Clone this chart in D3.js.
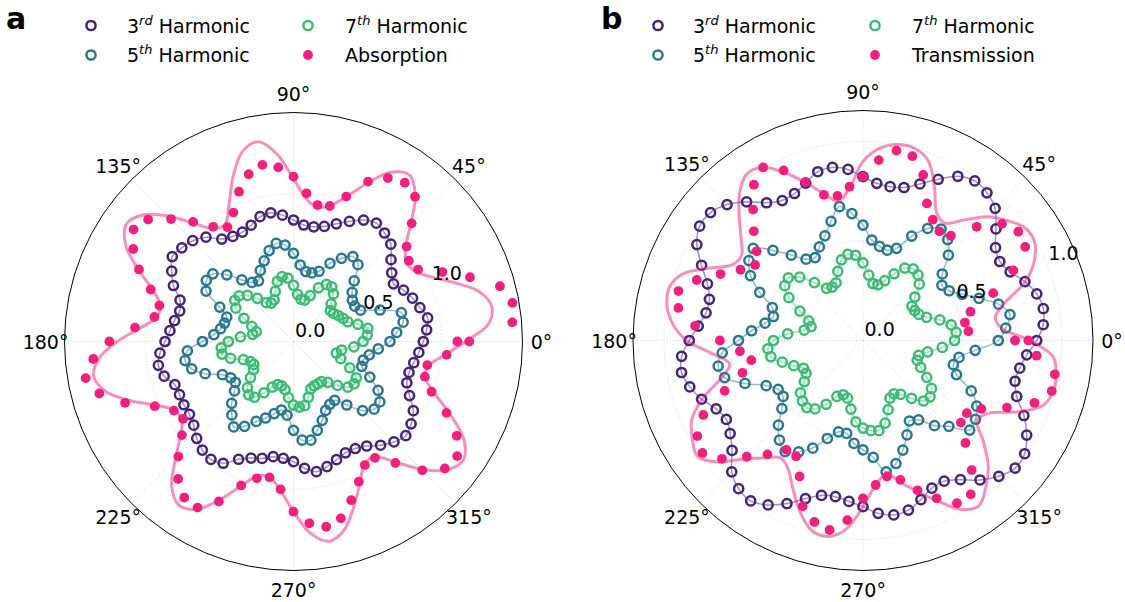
<!DOCTYPE html>
<html>
<head>
<meta charset="utf-8">
<script src="https://cdn.jsdelivr.net/npm/d3@7"></script>
<style>
  body { margin: 0; background: #fff; }
  text { font-family: "DejaVu Sans", sans-serif; }
</style>
</head>
<body>
<svg id="chart" width="1125" height="602"></svg>
<script>
// polarisation angle (deg) of each measurement
const angles = [0,5,10,15,20,25,30,35,40,45,50,55,60,65,70,75,80,85,90,95,100,105,110,115,
  120,125,130,135,140,145,150,155,160,165,170,175,180,185,190,195,200,205,210,215,220,225,230,235,
  240,245,250,255,260,265,270,275,280,285,290,295,300,305,310,315,320,325,330,335,340,345,350,355];
const dotAngles = angles.concat([360]);

const thetaTicks = [0, 45, 90, 135, 180, 225, 270, 315];
const rTicks = [0, 0.5, 1.0];

// panel a
const aThird = [0.877,0.903,0.92,0.884,0.856,0.82,0.78,0.81,0.86,0.93,0.957,0.976,
  0.947,0.895,0.846,0.805,0.787,0.79,0.821,0.857,0.883,0.873,0.836,0.816,
  0.82,0.845,0.92,0.963,0.985,1.0,0.95,0.895,0.816,0.796,0.816,0.838,
  0.868,0.906,0.927,0.905,0.853,0.85,0.855,0.858,0.88,0.925,0.958,0.973,
  0.95,0.878,0.838,0.818,0.79,0.792,0.812,0.86,0.893,0.875,0.85,0.83,
  0.835,0.862,0.915,0.96,0.99,0.97,0.935,0.865,0.815,0.808,0.825,0.85];
const aFifth = [0.652,0.70,0.752,0.755,0.622,0.50,0.478,0.486,0.517,0.58,0.678,0.70,
  0.649,0.583,0.505,0.48,0.48,0.519,0.596,0.654,0.673,0.636,0.58,0.53,
  0.473,0.487,0.543,0.637,0.711,0.719,0.682,0.55,0.48,0.482,0.50,0.54,
  0.615,0.72,0.744,0.712,0.635,0.53,0.49,0.48,0.52,0.591,0.648,0.705,
  0.662,0.596,0.55,0.504,0.47,0.50,0.60,0.669,0.677,0.621,0.567,0.514,
  0.49,0.485,0.56,0.66,0.711,0.712,0.66,0.569,0.491,0.488,0.52,0.575];
const aSeventh = [0.47,0.50,0.51,0.45,0.39,0.37,0.35,0.33,0.325,0.36,0.42,0.45,
  0.445,0.40,0.33,0.29,0.29,0.32,0.38,0.43,0.445,0.42,0.36,0.31,
  0.30,0.32,0.38,0.44,0.48,0.485,0.45,0.37,0.30,0.26,0.28,0.36,
  0.44,0.49,0.49,0.44,0.36,0.32,0.31,0.33,0.38,0.44,0.47,0.46,
  0.40,0.34,0.31,0.31,0.33,0.38,0.43,0.445,0.44,0.39,0.34,0.33,
  0.33,0.33,0.36,0.42,0.48,0.50,0.49,0.42,0.34,0.30,0.33,0.41];
const aAbsorption = [1.188,1.484,1.502,1.444,1.269,1.11,0.972,0.951,0.998,1.129,1.277,1.31,
  1.275,1.192,1.042,0.948,0.936,1.005,1.114,1.181,1.212,1.17,1.077,0.961,
  0.892,0.946,1.055,1.17,1.282,1.319,1.25,1.152,1.027,0.938,0.954,1.075,
  1.244,1.358,1.426,1.358,1.211,1.034,0.933,0.911,0.984,1.10,1.213,1.287,
  1.296,1.193,1.035,0.957,0.932,1.003,1.15,1.233,1.271,1.237,1.141,1.045,
  0.964,0.96,1.071,1.231,1.335,1.35,1.274,1.141,0.993,0.919,0.918,1.039,1.107];
const aAbsorptionFit = [1.16,1.32,1.36,1.30,1.16,1.03,0.95,0.93,0.99,1.12,1.28,1.37,
  1.32,1.18,1.04,0.95,0.92,0.97,1.10,1.27,1.37,1.33,1.19,1.03,
  0.92,0.93,1.04,1.20,1.33,1.38,1.31,1.16,1.01,0.93,0.94,1.04,
  1.19,1.32,1.37,1.31,1.17,1.02,0.93,0.92,1.00,1.13,1.28,1.35,
  1.31,1.18,1.04,0.94,0.93,1.01,1.15,1.30,1.37,1.32,1.19,1.06,
  0.96,0.95,1.06,1.22,1.35,1.40,1.33,1.17,1.01,0.92,0.93,1.03];

// panel b
const bThird = [0.873,0.909,0.92,0.904,0.866,0.816,0.794,0.813,0.872,0.939,0.969,0.979,
  0.953,0.894,0.837,0.796,0.785,0.793,0.823,0.863,0.883,0.878,0.842,0.815,
  0.812,0.845,0.91,0.966,1.0,1.002,0.964,0.895,0.832,0.799,0.801,0.831,
  0.873,0.915,0.926,0.901,0.863,0.814,0.793,0.815,0.859,0.933,0.972,0.984,
  0.954,0.904,0.845,0.806,0.797,0.812,0.835,0.872,0.89,0.882,0.851,0.819,
  0.816,0.854,0.915,0.965,0.998,0.992,0.95,0.892,0.822,0.791,0.80,0.826];
const bFifth = [0.68,0.72,0.75,0.705,0.62,0.55,0.50,0.484,0.52,0.607,0.662,0.684,
  0.65,0.579,0.493,0.47,0.48,0.507,0.58,0.64,0.683,0.62,0.56,0.519,
  0.481,0.499,0.56,0.64,0.72,0.70,0.653,0.573,0.485,0.466,0.50,0.562,
  0.626,0.71,0.739,0.72,0.631,0.537,0.492,0.49,0.532,0.601,0.653,0.682,
  0.646,0.597,0.524,0.475,0.474,0.519,0.55,0.59,0.67,0.64,0.586,0.523,
  0.467,0.487,0.559,0.61,0.70,0.69,0.66,0.60,0.50,0.47,0.49,0.566];
const bSeventh = [0.46,0.47,0.45,0.40,0.34,0.31,0.30,0.30,0.34,0.40,0.43,0.44,
  0.42,0.37,0.32,0.29,0.29,0.33,0.39,0.43,0.44,0.42,0.37,0.32,
  0.31,0.32,0.38,0.45,0.49,0.48,0.43,0.35,0.29,0.27,0.30,0.38,
  0.45,0.48,0.47,0.42,0.37,0.33,0.33,0.36,0.41,0.43,0.44,0.42,
  0.37,0.31,0.29,0.30,0.35,0.41,0.44,0.455,0.46,0.43,0.37,0.32,
  0.31,0.33,0.38,0.43,0.44,0.42,0.37,0.32,0.29,0.29,0.33,0.40];
const bTransmission = [0.764,0.532,0.52,0.559,0.696,0.834,0.941,0.953,0.912,0.808,0.687,0.67,
  0.701,0.76,0.885,0.959,0.969,0.91,0.823,0.776,0.738,0.758,0.847,0.943,
  1.004,0.956,0.859,0.776,0.697,0.662,0.711,0.79,0.889,0.96,0.942,0.847,
  0.719,0.621,0.57,0.627,0.74,0.885,0.961,0.985,0.925,0.826,0.747,0.671,
  0.672,0.754,0.887,0.944,0.967,0.906,0.793,0.729,0.694,0.725,0.801,0.875,
  0.944,0.944,0.85,0.728,0.642,0.637,0.687,0.798,0.917,0.982,0.979,0.876,0.831];
const bTransmissionFit = [0.84,0.70,0.675,0.74,0.87,0.95,0.995,0.99,0.94,0.88,0.79,0.72,
  0.74,0.85,0.96,1.0,1.0,0.97,0.90,0.77,0.71,0.765,0.845,0.93,
  1.005,1.02,0.965,0.88,0.80,0.745,0.76,0.86,0.97,1.01,1.0,0.96,
  0.886,0.76,0.68,0.74,0.86,0.95,0.99,1.015,0.95,0.84,0.77,0.72,
  0.75,0.83,0.92,0.99,1.0,0.95,0.835,0.73,0.68,0.74,0.81,0.89,
  0.98,1.015,0.96,0.89,0.79,0.70,0.73,0.85,0.96,0.99,0.985,0.96];

const purple = "#45237a", teal = "#2a788e", green = "#3dbb74", pink = "#f0207c";
const openR = 4.6, openW = 2.5, dotR = 4.9;

const svg = d3.select("#chart");
svg.append("rect").attr("width", 1125).attr("height", 602).attr("fill", "#fff");

const rad = deg => deg * Math.PI / 180;

function drawPanel(p) {
  const g = svg.append("g").attr("transform", `translate(${p.cx},${p.cy})`);
  const r = d3.scaleLinear().domain([0, p.R / p.unit]).range([0, p.R]);
  const pos = (deg, v) => d3.pointRadial(rad(90 - deg), r(v));

  // grid
  g.selectAll(".rgrid").data(rTicks.slice(1)).join("circle")
    .attr("r", d => r(d)).attr("fill", "none")
    .attr("stroke", "#c8c8c8").attr("stroke-width", 0.8).attr("stroke-dasharray", "1,2");
  g.selectAll(".tgrid").data(thetaTicks).join("line")
    .attr("x1", 0).attr("y1", 0)
    .attr("x2", d => p.R * Math.cos(rad(d)))
    .attr("y2", d => -p.R * Math.sin(rad(d)))
    .attr("stroke", "#c8c8c8").attr("stroke-width", 0.8).attr("stroke-dasharray", "1,2");

  const line = d3.lineRadial()
    .angle(d => rad(90 - d[0]))
    .radius(d => r(d[1]))
    .curve(d3.curveCatmullRomClosed);

  // harmonics: thin fit line + open circles
  p.harmonics.forEach(h => {
    const pts = angles.map((a, i) => [a, h.values[i]]);
    g.append("path").datum(pts).attr("d", line)
      .attr("fill", "none").attr("stroke", h.color)
      .attr("stroke-width", 1.5).attr("stroke-opacity", 0.5);
    g.append("g").selectAll("circle").data(pts).join("circle")
      .attr("cx", d => pos(d[0], d[1])[0])
      .attr("cy", d => pos(d[0], d[1])[1])
      .attr("r", openR).attr("fill", "none")
      .attr("stroke", h.color).attr("stroke-width", openW);
  });

  // absorption / transmission
  const fitPts = angles.map((a, i) => [a, p.fit[i]]);
  g.append("path").datum(fitPts).attr("d", line)
    .attr("fill", "none").attr("stroke", pink)
    .attr("stroke-width", 3).attr("stroke-opacity", 0.5);
  const dotPts = dotAngles.map((a, i) => [a, p.dots[i]]);
  g.append("g").selectAll("circle").data(dotPts).join("circle")
    .attr("cx", d => pos(d[0], d[1])[0])
    .attr("cy", d => pos(d[0], d[1])[1])
    .attr("r", dotR).attr("fill", pink);

  // outer spine
  g.append("circle").attr("r", p.R).attr("fill", "none")
    .attr("stroke", "#000").attr("stroke-width", 1);

  // theta labels
  g.selectAll(".tlab").data(thetaTicks).join("text")
    .attr("x", d => (p.R + 19) * Math.cos(rad(d)))
    .attr("y", d => -(p.R + 19) * Math.sin(rad(d)))
    .attr("text-anchor", "middle").attr("dominant-baseline", "central")
    .attr("font-size", 19).text(d => d + "°");

  // r labels at 22.5°
  g.selectAll(".rlab").data(rTicks).join("text")
    .attr("x", d => r(d) * Math.cos(rad(22.5)) + 1.5)
    .attr("y", d => -r(d) * Math.sin(rad(22.5)) - 4.5)
    .attr("font-size", 19).text(d => d.toFixed(1));

  // panel tag
  svg.append("text").attr("x", p.tagX).attr("y", 29)
    .attr("font-size", 30).attr("font-weight", "bold").text(p.tag);

  // legend
  const leg = svg.append("g");
  const entries = [
    {col: 0, row: 0, base: "3", sup: "rd", rest: " Harmonic", color: purple, open: true},
    {col: 0, row: 1, base: "5", sup: "th", rest: " Harmonic", color: teal, open: true},
    {col: 1, row: 0, base: "7", sup: "th", rest: " Harmonic", color: green, open: true},
    {col: 1, row: 1, base: p.lastLabel, sup: "", rest: "", color: pink, open: false}
  ];
  entries.forEach(e => {
    const mx = e.col === 0 ? p.legX : p.legX2;
    const tx = e.col === 0 ? p.legTextX : p.legTextX2;
    const y = 25.5 + e.row * 29.5;
    const m = leg.append("circle").attr("cx", mx).attr("cy", y);
    if (e.open) m.attr("r", openR).attr("fill", "none").attr("stroke", e.color).attr("stroke-width", openW);
    else m.attr("r", dotR).attr("fill", e.color);
    const t = leg.append("text").attr("x", tx).attr("y", y + 7).attr("font-size", 19);
    t.append("tspan").text(e.base);
    if (e.sup) {
      t.append("tspan").attr("font-size", 13).attr("font-style", "italic")
        .attr("dy", -8).text(e.sup);
      t.append("tspan").attr("dy", 8).text(e.rest);
    }
  });
}

drawPanel({
  cx: 293.5, cy: 341.5, R: 229, unit: 148, tag: "a", tagX: 6,
  legX: 91, legTextX: 127, legX2: 308, legTextX2: 345, lastLabel: "Absorption",
  harmonics: [
    {values: aThird, color: purple},
    {values: aFifth, color: teal},
    {values: aSeventh, color: green}
  ],
  dots: aAbsorption, fit: aAbsorptionFit
});

drawPanel({
  cx: 863, cy: 340.5, R: 230, unit: 199, tag: "b", tagX: 601,
  legX: 658, legTextX: 693, legX2: 875, legTextX2: 912, lastLabel: "Transmission",
  harmonics: [
    {values: bThird, color: purple},
    {values: bFifth, color: teal},
    {values: bSeventh, color: green}
  ],
  dots: bTransmission, fit: bTransmissionFit
});
</script>
</body>
</html>
